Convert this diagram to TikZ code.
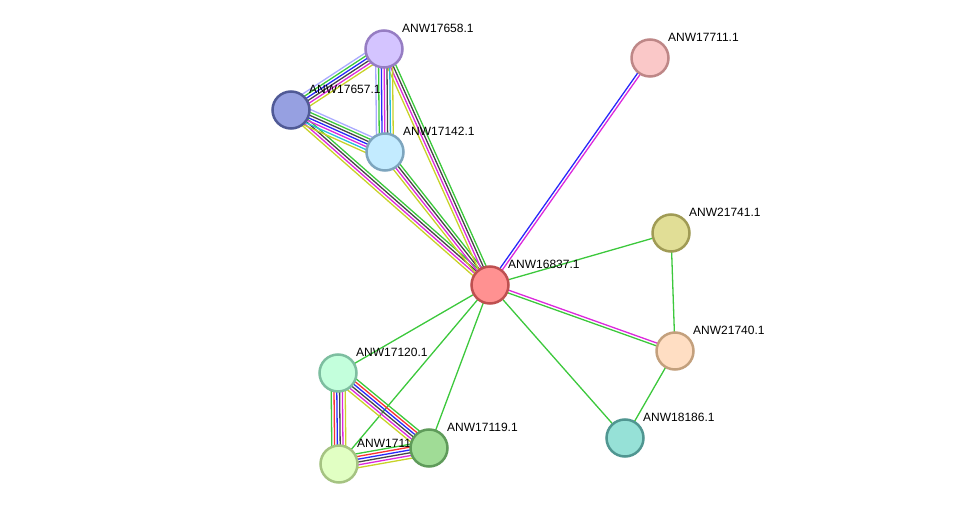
\documentclass[tikz,border=0pt]{standalone}
\usepackage{fontspec}
\setmainfont{Liberation Sans}
\usetikzlibrary{calc,backgrounds}

% edge colours
\definecolor{egreen}{RGB}{60,200,60}
\definecolor{ered}{RGB}{250,50,50}
\definecolor{eblue}{RGB}{40,40,250}
\definecolor{edark}{RGB}{70,70,70}
\definecolor{emag}{RGB}{220,40,220}
\definecolor{ecyan}{RGB}{40,190,220}
\definecolor{eyel}{RGB}{200,210,40}
\definecolor{elav}{RGB}{170,170,255}
% node colours (fill / border)
\definecolor{f16837}{RGB}{255,145,145}\definecolor{d16837}{RGB}{190,80,80}
\definecolor{f17658}{RGB}{212,196,255}\definecolor{d17658}{RGB}{150,125,195}
\definecolor{f17657}{RGB}{150,160,225}\definecolor{d17657}{RGB}{80,90,150}
\definecolor{f17142}{RGB}{195,235,255}\definecolor{d17142}{RGB}{125,165,190}
\definecolor{f17711}{RGB}{250,200,200}\definecolor{d17711}{RGB}{190,135,135}
\definecolor{f21741}{RGB}{225,222,150}\definecolor{d21741}{RGB}{160,155,85}
\definecolor{f21740}{RGB}{255,222,195}\definecolor{d21740}{RGB}{195,160,125}
\definecolor{f18186}{RGB}{150,225,215}\definecolor{d18186}{RGB}{80,150,145}
\definecolor{f17120}{RGB}{195,255,220}\definecolor{d17120}{RGB}{125,190,160}
\definecolor{f17118}{RGB}{225,255,195}\definecolor{d17118}{RGB}{165,195,130}
\definecolor{f17119}{RGB}{160,220,150}\definecolor{d17119}{RGB}{95,155,90}

% bundle of parallel lines between two nodes
\newcommand\bundle[3]{%
  \foreach \c [count=\i] in {#3} {\xdef\nlines{\i}}
  \foreach \c [count=\i] in {#3} {
    \pgfmathsetmacro\off{(\i-(\nlines+1)/2)*2.8}
    \draw[edge, \c] ($(#1)!\off pt!90:(#2)$) -- ($(#2)!\off pt!-90:(#1)$);
  }}

\begin{document}
\begin{tikzpicture}[x=1pt, y=-1pt,
    prot/.style={circle, minimum size=37pt, inner sep=0pt, line width=2.5pt, fill=f#1, draw=d#1},
    lbl/.style={anchor=base west, xshift=18pt, yshift=16pt, inner sep=0pt, font=\fontsize{12pt}{14pt}\selectfont},
    edge/.style={line width=1.3pt}]
    \useasboundingbox (0,0) rectangle (975,510);
    % Nodes
    \node[prot=16837] (n16837) at (490,285) {};
    \node[lbl] (l16837) at (n16837) {ANW16837.1};
    \node[prot=17658] (n17658) at (384,49) {};
    \node[lbl] (l17658) at (n17658) {ANW17658.1};
    \node[prot=17657] (n17657) at (291,110) {};
    \node[lbl] (l17657) at (n17657) {ANW17657.1};
    \node[prot=17142] (n17142) at (385,152) {};
    \node[lbl] (l17142) at (n17142) {ANW17142.1};
    \node[prot=17711] (n17711) at (650,58) {};
    \node[lbl] (l17711) at (n17711) {ANW17711.1};
    \node[prot=21741] (n21741) at (671,233) {};
    \node[lbl] (l21741) at (n21741) {ANW21741.1};
    \node[prot=21740] (n21740) at (675,351) {};
    \node[lbl] (l21740) at (n21740) {ANW21740.1};
    \node[prot=18186] (n18186) at (625,438) {};
    \node[lbl] (l18186) at (n18186) {ANW18186.1};
    \node[prot=17120] (n17120) at (338,373) {};
    \node[lbl] (l17120) at (n17120) {ANW17120.1};
    \node[prot=17118] (n17118) at (339,464) {};
    \node[lbl] (l17118) at (n17118) {ANW17118.1};
    \node[prot=17119] (n17119) at (429,448) {};
    \node[lbl] (l17119) at (n17119) {ANW17119.1};
    % Edges
    \begin{scope}[on background layer]
        \bundle{n16837}{n17711}{emag,eblue}
        \bundle{n16837}{n21741}{egreen}
        \bundle{n16837}{n21740}{egreen,emag}
        \bundle{n16837}{n18186}{egreen}
        \bundle{n21741}{n21740}{egreen}
        \bundle{n21740}{n18186}{egreen}
        \bundle{n16837}{n17120}{egreen}
        \bundle{n16837}{n17119}{egreen}
        \bundle{n16837}{n17118}{egreen}
        \bundle{n17657}{n16837}{eyel,emag,edark,egreen}
        \bundle{n17142}{n16837}{eyel,emag,edark,egreen}
        \bundle{n17658}{n16837}{eyel,emag,edark,egreen}
        \bundle{n17657}{n17658}{eyel,emag,edark,eblue,egreen,elav}
        \bundle{n17658}{n17142}{elav,egreen,eblue,emag,edark,ecyan,eyel}
        \bundle{n17657}{n17142}{eyel,ecyan,emag,eblue,edark,egreen,elav}
        \bundle{n17120}{n17119}{eyel,emag,edark,eblue,ered,egreen}
        \bundle{n17120}{n17118}{egreen,ered,eblue,edark,emag,eyel}
        \bundle{n17118}{n17119}{eyel,emag,edark,eblue,ered,egreen}
    \end{scope}
\end{tikzpicture}
\end{document}
